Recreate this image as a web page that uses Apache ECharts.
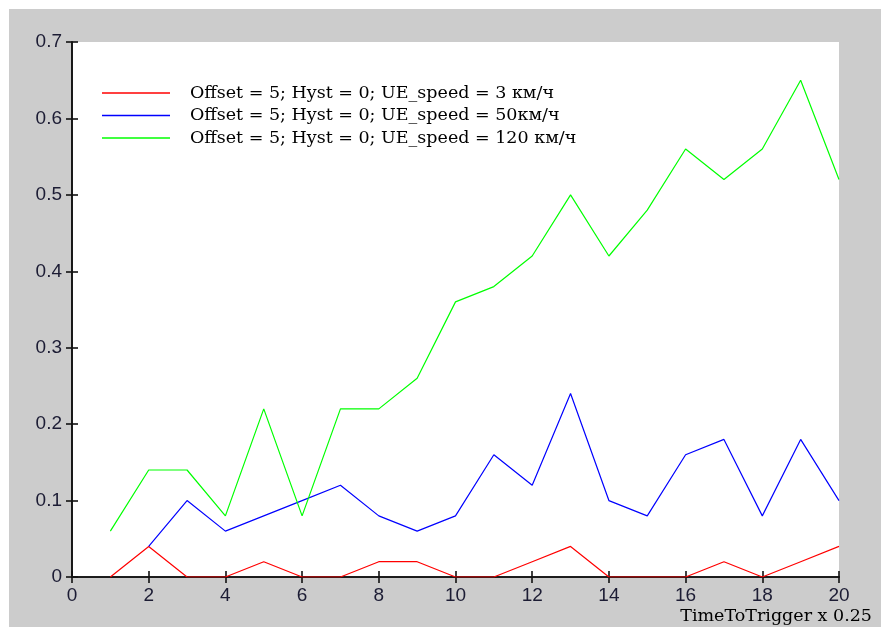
<!DOCTYPE html>
<html>
<head>
<meta charset="utf-8">
<script src="https://cdn.jsdelivr.net/npm/echarts@6/dist/echarts.min.js"></script>
<style>
html,body{margin:0;padding:0;background:#ffffff;}
#bg{position:absolute;left:9px;top:9px;width:872px;height:618px;background:#cccccc;}
#chart{position:absolute;left:0;top:0;width:881px;height:627px;}
</style>
</head>
<body>
<div id="bg"></div>
<div id="chart"></div>
<script>
var xValues = [1,2,3,4,5,6,7,8,9,10,11,12,13,14,15,16,17,18,19,20];
var seriesNames = [
  'Offset = 5; Hyst = 0; UE_speed = 3 км/ч',
  'Offset = 5; Hyst = 0; UE_speed = 50км/ч',
  'Offset = 5; Hyst = 0; UE_speed = 120 км/ч'
];
var red3 = [0,0.04,0,0,0.02,0,0,0.02,0.02,0,0,0.02,0.04,0,0,0,0.02,0,0.02,0.04];
var blue50 = [null,0.04,0.10,0.06,0.08,0.10,0.12,0.08,0.06,0.08,0.16,0.12,0.24,0.10,0.08,0.16,0.18,0.08,0.18,0.10];
var green120 = [0.06,0.14,0.14,0.08,0.22,0.08,0.22,0.22,0.26,0.36,0.38,0.42,0.50,0.42,0.48,0.56,0.52,0.56,0.65,0.52];
var colors = ['#ff0000','#0000ff','#00ff00'];
var xAxisTitle = 'TimeToTrigger x 0.25';

function pairs(vals){ return xValues.map(function(x,i){ return [x, vals[i]]; }); }

var chart = echarts.init(document.getElementById('chart'), null, {renderer:'canvas'});
var axisLine = {show:true, lineStyle:{color:'#111', width:1.6}};
var tick = {show:true, inside:true, length:6, lineStyle:{color:'#111', width:1.6}};
var labelStyle = {color:'#1c1c34', fontFamily:'Liberation Sans, Arial', fontSize:19};
var serif = 'DejaVu Serif, Liberation Serif, serif';
var option = {
  animation:false,
  backgroundColor:'transparent',
  color:colors,
  grid:{left:72, top:42, width:767, height:535, show:true, backgroundColor:'#ffffff', borderWidth:0},
  legend:{
    orient:'vertical', left:97, top:79, itemWidth:68, itemHeight:1.4, itemGap:4.5,
    icon:'rect',
    textStyle:{fontFamily:serif, fontSize:17.5, lineHeight:16, color:'#000', padding:[0,0,0,15]},
    data:seriesNames.map(function(n,i){ return {name:n, icon:'rect', itemStyle:{color:colors[i], borderWidth:0}}; })
  },
  xAxis:[
    {type:'value', min:0, max:20, interval:2, position:'bottom',
     axisLine:axisLine, axisTick:tick, splitLine:{show:false},
     axisLabel:Object.assign({margin:9}, labelStyle)},
    {type:'value', min:0, max:20, interval:2, position:'top',
     axisLine:axisLine, axisTick:tick, splitLine:{show:false}, axisLabel:{show:false}}
  ],
  yAxis:[
    {type:'value', min:0, max:0.7, interval:0.1, position:'left',
     axisLine:axisLine, axisTick:tick, splitLine:{show:false},
     axisLabel:Object.assign({margin:10, formatter:function(v){return v===0?'0':v.toFixed(1);}}, labelStyle)},
    {type:'value', min:0, max:0.7, interval:0.1, position:'right',
     axisLine:axisLine, axisTick:tick, splitLine:{show:false}, axisLabel:{show:false}}
  ],
  graphic:[{
    type:'text', right:9, top:607,
    style:{text:xAxisTitle, fontFamily:serif, fontSize:17.5, fill:'#000'}
  }],
  series:[red3, blue50, green120].map(function(vals,i){
    return {name:seriesNames[i], type:'line', data:pairs(vals), showSymbol:false, symbol:'none',
      lineStyle:{color:colors[i], width:1.2}, itemStyle:{color:colors[i]}, connectNulls:false};
  })
};
chart.setOption(option);
</script>
</body>
</html>
